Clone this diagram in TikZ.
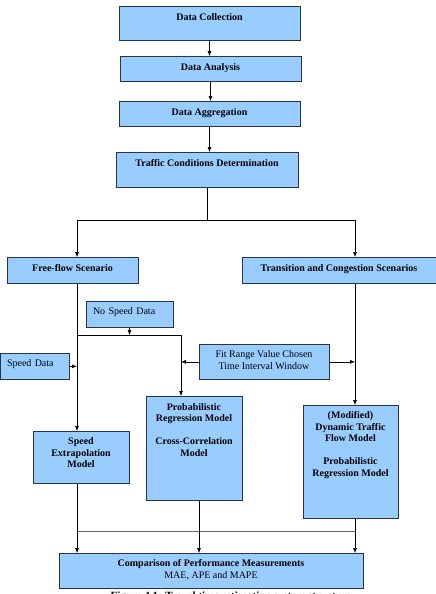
\documentclass[tikz,border=0pt]{standalone}
\usepackage{fontspec}
\setmainfont{Liberation Serif}
\usetikzlibrary{arrows.meta}
\definecolor{boxfill}{RGB}{153,204,255}
\definecolor{boxline}{RGB}{40,52,70}
\tikzset{
  box/.style={draw=boxline, fill=boxfill, line width=.7pt, inner sep=0pt, align=center,
    font=\fontsize{10}{11.5}\selectfont\bfseries, anchor=north},
  plainbox/.style={box, font=\fontsize{10}{11.5}\selectfont},
  leftbox/.style={plainbox, inner xsep=7pt, align=left},
  arr/.style={-{Latex[length=5pt,width=4pt]}, line width=.6pt},
  ln/.style={line width=.6pt}
}
\begin{document}
\begin{tikzpicture}[x=1pt,y=-1pt]
\fill[white] (0,0) rectangle (436,594);
\useasboundingbox (0,0) rectangle (436,594);
% line columns
\coordinate (lx) at (77,0);
\coordinate (mx) at (181,0);
\coordinate (cx) at (199,0);
\coordinate (rx) at (355,0);
\coordinate (split) at (207,220);
\coordinate (jn) at (0,335);
\coordinate (bar) at (0,531);
% top chain
\node[box,minimum width=181pt,text height=14.5pt,text depth=19.5pt] (dc) at (209.5,6) {Data Collection};
\node[box,minimum width=181pt,text height=14.5pt,text depth=10.5pt] (da) at (210.5,56) {Data Analysis};
\node[box,minimum width=181pt,text height=14.5pt,text depth=10.5pt] (dg) at (209.5,101) {Data Aggregation};
\node[box,minimum width=182pt,text height=14.5pt,text depth=20.5pt] (tcd) at (207,152) {Traffic Conditions Determination};
% scenarios
\node[box,minimum width=131pt,text height=14.5pt,text depth=11.5pt] (ff) at (72.5,257) {Free-flow Scenario};
\node[box,minimum width=194pt,text height=14.5pt,text depth=11.5pt] (tc) at (339,257) {Transition and Congestion Scenarios};
% inputs
\node[leftbox,text width=73pt,text height=13.5pt,text depth=12.5pt] (nsd) at (129.5,301) {No Speed Data};
\node[leftbox,text width=55pt,text height=13.5pt,text depth=12.5pt] (sd) at (34.5,353) {Speed Data};
\node[plainbox,minimum width=130pt,text height=25pt,text depth=10pt] (fr) at (264,344) {Fit Range Value Chosen\\Time Interval Window};
% models
\node[box,minimum width=96pt,text height=36.5pt,text depth=15.5pt] (se) at (81,431) {Speed\\Extrapolation\\Model};
\node[box,minimum width=96pt,text height=60pt,text depth=44pt] (pr) at (194,396) {Probabilistic\\Regression Model\\[11.5pt]Cross-Correlation\\Model};
\node[box,minimum width=95pt,text height=71pt,text depth=42pt] (md) at (350.5,405) {(Modified)\\Dynamic Traffic\\Flow Model\\[11.5pt]Probabilistic\\Regression Model};
% comparison
\node[box,minimum width=304pt,text height=25pt,text depth=10pt] (cmp) at (211,553) {Comparison of Performance Measurements\\\mdseries MAE, APE and MAPE};
\node[font=\fontsize{11}{13}\selectfont\bfseries,anchor=base] (cap) at (231,599.5) {Figure 4.1: Travel time estimation system structure};
% connectors
\draw[arr] (dc.south) -- (dc.south |- da.north);
\draw[arr] (da.south) -- (da.south |- dg.north);
\draw[arr] (dg.south) -- (dg.south |- tcd.north);
\draw[ln] (tcd.south) -- (split);
\draw[arr] (split) -| (ff.north -| lx);
\draw[arr] (split) -| (tc.north -| rx);
\draw[arr] (ff.south -| lx) -- (se.north -| lx);
\draw[arr] (nsd.south) -- (nsd.south |- jn);
\draw[arr] (jn -| lx) -| (pr.north -| mx);
\draw[arr] (sd.east) -- (sd.east -| lx);
\draw[arr] (fr.west) -- (fr.west -| mx);
\draw[arr] (fr.east) -- (fr.east -| rx);
\draw[arr] (tc.south -| rx) -- (md.north -| rx);
\draw[ln,black!60,line width=.9pt] (bar -| lx) -- (bar -| rx);
\draw[arr] (se.south -| lx) -- (cmp.north -| lx);
\draw[arr] (pr.south -| cx) -- (cmp.north -| cx);
\draw[arr] (md.south -| rx) -- (cmp.north -| rx);
\end{tikzpicture}
\end{document}
